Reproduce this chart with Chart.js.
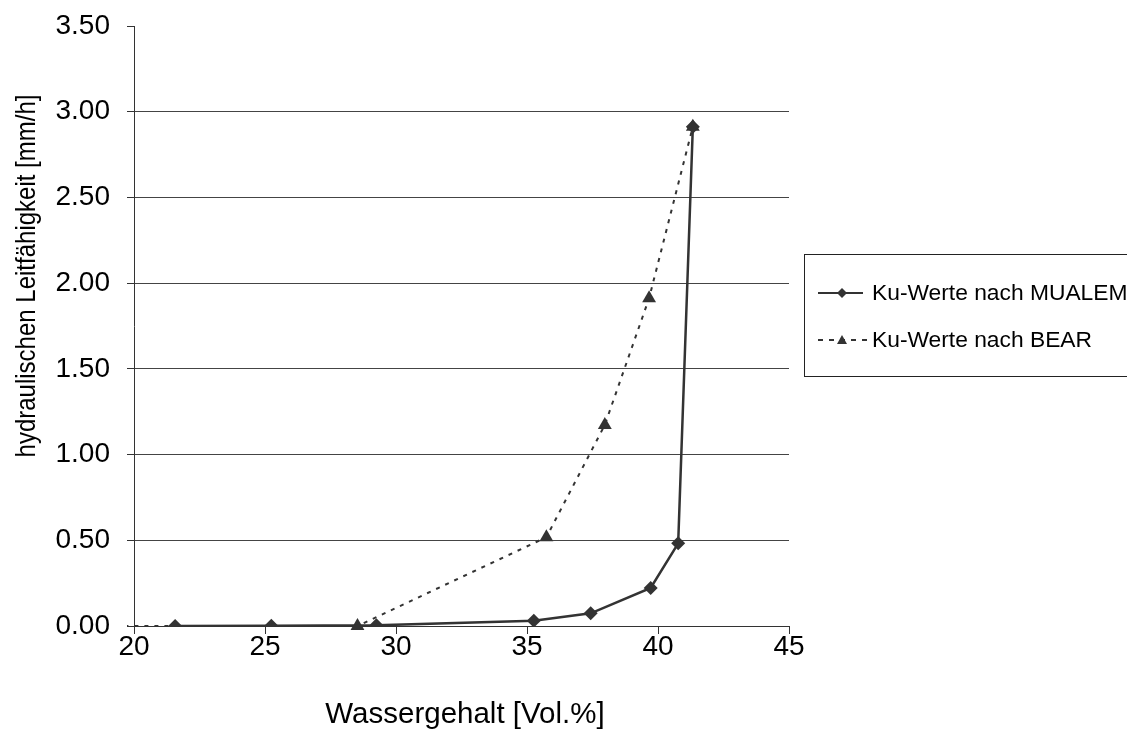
<!DOCTYPE html>
<html>
<head>
<meta charset="utf-8">
<script src="https://cdn.jsdelivr.net/npm/chart.js@4.4.1/dist/chart.umd.min.js"></script>
<style>
  html, body { margin: 0; padding: 0; background: #fff; overflow: hidden; }
  canvas { display: block; }
</style>
</head>
<body>
<canvas id="chart" width="1127" height="731"></canvas>
<script>
// values
const mualemX = [21.57, 25.24, 29.25, 35.26, 37.43, 39.72, 40.77, 41.33];
const mualemY = [0.0, 0.002, 0.004, 0.031, 0.074, 0.222, 0.482, 2.913];
const bearX = [12.0, 28.53, 35.74, 37.97, 39.66, 41.33];
const bearY = [0.0, 0.0, 0.518, 1.173, 1.912, 2.913];

const seriesNames = ['Ku-Werte nach MUALEM', 'Ku-Werte nach BEAR'];
const xTitle = 'Wassergehalt [Vol.%]';
const yTitle = 'hydraulischen Leitfähigkeit [mm/h]';

const FONT = '"Liberation Sans", Arial, sans-serif';
const INK = '#333333';

function zip(xs, ys) {
  return xs.map((x, i) => ({ x, y: ys[i] }));
}

const decorations = {
  id: 'decorations',
  afterDraw(chart) {
    const ctx = chart.ctx;
    ctx.save();
    ctx.fillStyle = '#000';

    // axis titles
    ctx.font = '29.5px ' + FONT;
    ctx.textAlign = 'center';
    ctx.textBaseline = 'middle';
    ctx.fillText(xTitle, 465, 715);

    ctx.save();
    ctx.translate(27, 276);
    ctx.rotate(-Math.PI / 2);
    ctx.scale(1, 1.15);
    ctx.font = '24px ' + FONT;
    ctx.fillText(yTitle, 0, 0);
    ctx.restore();

    // legend box
    ctx.strokeStyle = '#222';
    ctx.lineWidth = 1;
    ctx.strokeRect(804.5, 254.5, 340, 122);

    // MUALEM sample
    ctx.strokeStyle = INK;
    ctx.fillStyle = INK;
    ctx.lineWidth = 2;
    ctx.beginPath();
    ctx.moveTo(818, 293);
    ctx.lineTo(863, 293);
    ctx.stroke();
    ctx.beginPath();
    ctx.moveTo(842, 288);
    ctx.lineTo(847, 293);
    ctx.lineTo(842, 298);
    ctx.lineTo(837, 293);
    ctx.closePath();
    ctx.fill();

    // BEAR sample
    ctx.setLineDash([5, 6]);
    ctx.beginPath();
    ctx.moveTo(818, 340);
    ctx.lineTo(868, 340);
    ctx.stroke();
    ctx.setLineDash([]);
    ctx.beginPath();
    ctx.moveTo(842, 335);
    ctx.lineTo(847, 344);
    ctx.lineTo(837, 344);
    ctx.closePath();
    ctx.fill();

    ctx.fillStyle = '#000';
    ctx.font = '22.8px ' + FONT;
    ctx.textAlign = 'left';
    ctx.fillText(seriesNames[0], 872, 294);
    ctx.fillText(seriesNames[1], 872, 341);
    ctx.restore();
  }
};

new Chart(document.getElementById('chart').getContext('2d'), {
  type: 'scatter',
  data: {
    datasets: [
      {
        label: seriesNames[0],
        data: zip(mualemX, mualemY),
        showLine: true,
        borderColor: INK,
        backgroundColor: INK,
        borderWidth: 2.5,
        pointStyle: 'rectRot',
        pointRadius: 7,
        pointHoverRadius: 7,
        pointBorderWidth: 0,
        order: 1,
      },
      {
        label: seriesNames[1],
        data: zip(bearX, bearY),
        showLine: true,
        borderColor: INK,
        backgroundColor: INK,
        borderWidth: 2,
        borderDash: [4, 6],
        pointStyle: 'triangle',
        pointRadius: 8,
        pointHoverRadius: 8,
        pointBorderWidth: 0,
        clip: { left: 7, top: 20, right: 20, bottom: 20 },
        order: 2,
      },
    ],
  },
  options: {
    responsive: false,
    animation: false,
    devicePixelRatio: 1,
    layout: { padding: { left: 0, right: 338, top: 26, bottom: 0 } },
    plugins: {
      legend: { display: false },
      tooltip: { enabled: false },
    },
    scales: {
      x: {
        type: 'linear',
        min: 20,
        max: 45,
        ticks: {
          stepSize: 5,
          color: '#000',
          font: { family: FONT, size: 28 },
          padding: -4,
          maxRotation: 0,
        },
        grid: {
          drawOnChartArea: false,
          drawTicks: true,
          tickLength: 8,
          tickColor: INK,
        },
        border: { display: true, color: INK, width: 1 },
        afterFit(scale) {
          scale.height = 105;
          scale.paddingLeft = 0;
          scale.paddingRight = 0;
        },
      },
      y: {
        min: 0,
        max: 3.5,
        ticks: {
          stepSize: 0.5,
          color: '#000',
          font: { family: FONT, size: 28 },
          padding: 17,
          callback: (v) => v.toFixed(2),
        },
        grid: {
          color: (c) => (c.tick && c.tick.value >= 3.5 ? 'rgba(0,0,0,0)' : '#444444'),
          lineWidth: 1,
          drawTicks: true,
          tickLength: 7,
          tickColor: INK,
        },
        border: { display: true, color: INK, width: 1 },
        afterFit(scale) {
          scale.width = 134;
          scale.paddingTop = 0;
          scale.paddingBottom = 0;
        },
      },
    },
  },
  plugins: [decorations],
});
</script>
</body>
</html>
